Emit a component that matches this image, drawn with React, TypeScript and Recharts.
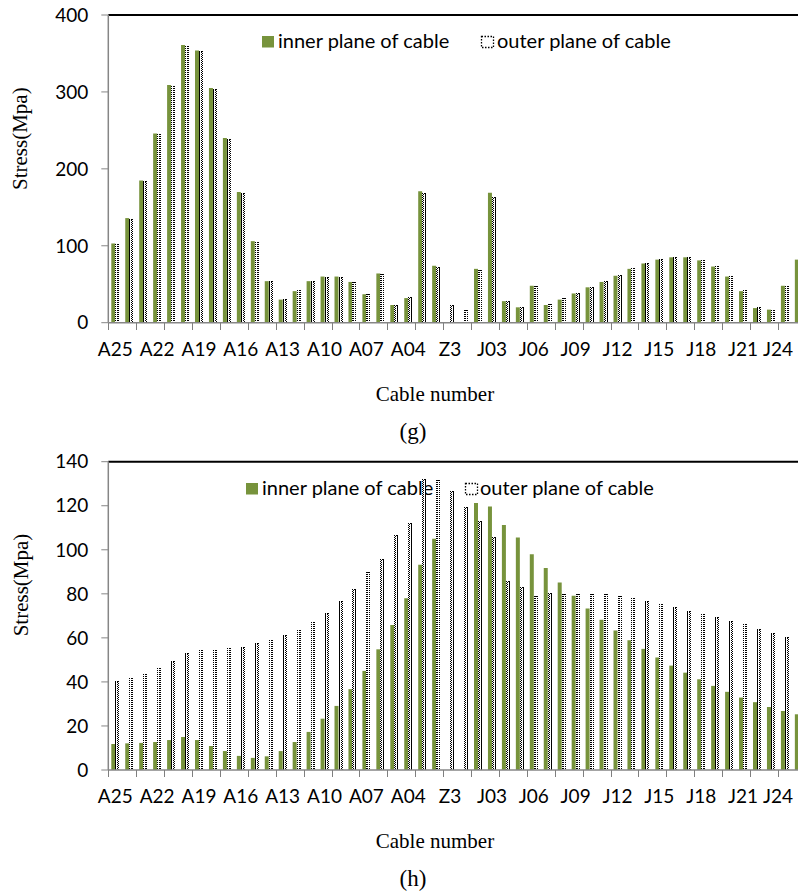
import React from "react";
import { BarChart, Bar, XAxis, YAxis, ReferenceLine } from "recharts";

const categories = [
  "A25", "A24", "A23", "A22", "A21", "A20", "A19", "A18", "A17", "A16",
  "A15", "A14", "A13", "A12", "A11", "A10", "A09", "A08", "A07", "A06",
  "A05", "A04", "Z1", "Z2", "Z3", "J01", "J02", "J03", "J04", "J05",
  "J06", "J07", "J08", "J09", "J10", "J11", "J12", "J13", "J14", "J15",
  "J16", "J17", "J18", "J19", "J20", "J21", "J22", "J23", "J24", "J25",
];

const innerG = [
  103, 136, 185, 246, 309, 361, 354, 305, 240, 170,
  106, 54, 30, 41, 54, 60, 60, 53, 37, 64,
  23, 32, 171, 74, 0, 0, 70, 169, 28, 20,
  48, 23, 30, 38, 46, 53, 61, 70, 77, 82,
  85, 85, 81, 73, 60, 41, 19, 17, 48, 82,
];
const outerG = [
  102, 135, 184, 245, 308, 360, 353, 304, 239, 169,
  105, 54, 31, 42, 54, 60, 60, 53, 37, 63,
  23, 33, 168, 73, 23, 17, 68, 164, 28, 21,
  48, 24, 32, 39, 47, 54, 62, 71, 78, 83,
  85, 86, 82, 74, 61, 42, 20, 17, 48, 80,
];

const innerH = [
  11.8, 12.1, 12.3, 12.7, 13.6, 15, 13.6, 10.9, 8.6, 6.4,
  5.5, 6.2, 8.6, 12.7, 17.3, 23.3, 29.1, 36.7, 45, 54.8,
  65.9, 78, 93.2, 105, 0, 0, 121.2, 119.7, 111.2, 105.6,
  98, 91.7, 85.2, 79.1, 73.3, 68.2, 63.3, 58.9, 55, 51.1,
  47.4, 44.2, 41.2, 38.2, 35.5, 32.9, 30.8, 28.6, 26.8, 25.3,
];
const outerH = [
  40.2, 41.8, 43.8, 46.4, 49.5, 53.2, 54.4, 54.5, 55.3, 55.9,
  57.7, 58.9, 61.2, 63.6, 67.3, 71.1, 76.8, 82, 90, 95.9,
  106.5, 112, 132, 131.5, 126.8, 119.4, 113.2, 105.8, 85.6, 83.2,
  78.8, 80.2, 79.8, 80, 80, 79.7, 78.8, 77.9, 76.7, 75.3,
  73.9, 72.4, 70.9, 69.7, 67.7, 66.2, 64.1, 62.4, 60.2, 58,
];

const yTicksG = [0, 100, 200, 300, 400];
const yTicksH = [0, 20, 40, 60, 80, 100, 120, 140];

const seriesNames = ["inner plane of cable", "outer plane of cable"];

const GREEN = "#77933C";
const AXIS = "#868686";
const SANS = "Lato, 'Open Sans', sans-serif";
const SERIF = "'Liberation Serif', 'Times New Roman', serif";

const CHART_W = 830;
const Y_AXIS_W = 108.3;
const RIGHT_M = 24.2;
const PLOT_W = CHART_W - Y_AXIS_W - RIGHT_M;

function OuterBar(props: any) {
  const { x, y, width, height, pid } = props;
  if (!(height > 0)) return null;
  const x0 = Math.round(x);
  const y0 = Math.round(y);
  const y1 = Math.round(y + height);
  const w = Math.round(width);
  return (
    <g shapeRendering="crispEdges">
      <rect x={x0} y={y0} width={w} height={y1 - y0} fill={`url(#${pid})`} />
      <line x1={x0 + 0.5} y1={y0} x2={x0 + 0.5} y2={y1} stroke="#000" strokeWidth={1} strokeDasharray="1 1" />
      <line x1={x0 + w - 0.5} y1={y0} x2={x0 + w - 0.5} y2={y1} stroke="#000" strokeWidth={1} strokeDasharray="1 1" />
      <line x1={x0} y1={y0 + 0.5} x2={x0 + w} y2={y0 + 0.5} stroke="#000" strokeWidth={1} strokeDasharray="1 1" />
    </g>
  );
}

// Category tick: Excel-style tick mark on the band boundary every 2 categories,
// label every 3 categories (last label kept inside the picture like the reference).
function CatTick(props: any) {
  const { payload, index, visibleTicksCount } = props;
  const x = Number(props.x);
  const y = Number(props.y);
  let half = NaN;
  const axisW = Number(props.width);
  const n = Number(visibleTicksCount);
  if (payload && typeof payload.offset === "number" && payload.offset > 2.5) {
    half = payload.offset;
  } else if (isFinite(axisW) && axisW > 0 && n > 0) {
    half = axisW / n / 2;
  } else {
    half = PLOT_W / categories.length / 2;
  }
  const bx = Math.round(x - half);
  const showLine = index % 2 === 0;
  const showLabel = index % 3 === 0;
  const cx = Math.min(x, 778);
  return (
    <g>
      {showLine && (
        <rect x={bx} y={Math.round(y)} width={1} height={7} fill="#7f7f7f" stroke="none" shapeRendering="crispEdges" />
      )}
      {showLabel && (
        <text x={cx} y={y + 20} dy="0.71em" textAnchor="middle" fontFamily={SANS} fontSize={19} fill="#000" stroke="none">
          {payload.value}
        </text>
      )}
    </g>
  );
}

function Panel(props: {
  inner: number[];
  outer: number[];
  yMax: number;
  yTicks: number[];
  top: number;
  marginTop: number;
  marginBottom: number;
  pid: string;
}) {
  const { inner, outer, yMax, yTicks, top, marginTop, marginBottom, pid } = props;
  const data = categories.map((c, i) => ({ name: c, inner: inner[i], outer: outer[i] }));
  return (
    <div style={{ position: "absolute", left: 0, top, width: CHART_W, height: 380 }}>
      <BarChart
        width={CHART_W}
        height={380}
        data={data}
        margin={{ top: marginTop, right: RIGHT_M, bottom: marginBottom, left: 0 }}
        barGap={0}
        barCategoryGap={0}
      >
        <defs>
          <pattern id={pid} patternUnits="userSpaceOnUse" width={2} height={2}>
            <rect x={0} y={0} width={2} height={2} fill="#ffffff" />
            <rect x={1} y={0} width={1} height={1} fill="#000000" />
          </pattern>
        </defs>
        <XAxis
          xAxisId="c"
          dataKey="name"
          interval={0}
          tickLine={false}
          tickSize={0}
          tickMargin={0}
          axisLine={{ stroke: AXIS, strokeWidth: 1.5 }}
          height={1}
          tick={<CatTick />}
        />
        <YAxis
          domain={[0, yMax]}
          ticks={yTicks}
          interval={0}
          width={Y_AXIS_W}
          tickSize={7}
          tickMargin={13}
          axisLine={{ stroke: AXIS, strokeWidth: 1.5 }}
          tickLine={{ stroke: AXIS, strokeWidth: 1 }}
          tick={{ fontFamily: SANS, fontSize: 19, fill: "#000" }}
        />
        <ReferenceLine xAxisId="c" y={yMax} stroke="#000" strokeWidth={2} />
        <Bar
          xAxisId="c"
          dataKey="inner"
          name={seriesNames[0]}
          fill={GREEN}
          barSize={4}
          isAnimationActive={false}
        />
        <Bar
          xAxisId="c"
          dataKey="outer"
          name={seriesNames[1]}
          barSize={4}
          shape={(p: any) => <OuterBar {...p} pid={pid} />}
          isAnimationActive={false}
        />
      </BarChart>
    </div>
  );
}

function LegendRow(props: { x1: number; x2: number; t1: number; t2: number; baseline: number }) {
  const { x1, x2, t1, t2, baseline } = props;
  return (
    <g>
      <rect x={x1} y={baseline - 12} width={12} height={11.5} fill={GREEN} />
      <text x={t1} y={baseline} fontFamily={SANS} fontSize={20} fill="#000">
        {seriesNames[0]}
      </text>
      <rect
        x={x2 + 0.5}
        y={baseline - 11.5}
        width={12}
        height={11}
        fill="#fff"
        stroke="#000"
        strokeWidth={1.3}
        strokeDasharray="1.5 1.5"
      />
      <text x={t2} y={baseline} fontFamily={SANS} fontSize={20} fill="#000">
        {seriesNames[1]}
      </text>
    </g>
  );
}

export default function App() {
  return (
    <div
      style={{
        position: "absolute",
        left: 0,
        top: 0,
        width: 798,
        height: 894,
        overflow: "hidden",
        background: "#fff",
      }}
    >
      <svg
        width={798}
        height={894}
        style={{ position: "absolute", left: 0, top: 0 }}
      >
        <LegendRow x1={262} x2={481} t1={278} t2={497} baseline={48} />
        <LegendRow x1={246} x2={465} t1={262} t2={480} baseline={495} />

        <text
          x={27.5}
          y={138.7}
          transform="rotate(-90, 27.5, 138.7)"
          textAnchor="middle"
          fontFamily={SERIF}
          fontSize={21}
          fill="#000"
        >
          Stress(Mpa)
        </text>
        <text
          x={27.5}
          y={585}
          transform="rotate(-90, 27.5, 585)"
          textAnchor="middle"
          fontFamily={SERIF}
          fontSize={21}
          fill="#000"
        >
          Stress(Mpa)
        </text>

        <text x={435} y={401} textAnchor="middle" fontFamily={SERIF} fontSize={21} fill="#000">
          Cable number
        </text>
        <text x={435} y={848} textAnchor="middle" fontFamily={SERIF} fontSize={21} fill="#000">
          Cable number
        </text>

        <text x={413} y={439} textAnchor="middle" fontFamily={SERIF} fontSize={23} fill="#000">
          (g)
        </text>
        <text x={413} y={885.5} textAnchor="middle" fontFamily={SERIF} fontSize={23} fill="#000">
          (h)
        </text>
      </svg>

      <Panel
        inner={innerG}
        outer={outerG}
        yMax={400}
        yTicks={yTicksG}
        top={0}
        marginTop={15}
        marginBottom={56.3}
        pid="dotsG"
      />
      <Panel
        inner={innerH}
        outer={outerH}
        yMax={140}
        yTicks={yTicksH}
        top={440}
        marginTop={21.7}
        marginBottom={49}
        pid="dotsH"
      />
    </div>
  );
}
